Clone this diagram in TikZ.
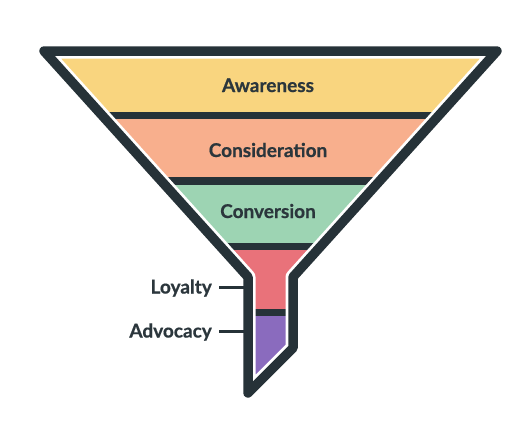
\documentclass[tikz,border=0pt]{standalone}
\usepackage{fontspec}
\setmainfont{Lato}[BoldFeatures={FakeBold=0.7}]
\definecolor{dark}{HTML}{263238}
\definecolor{txt}{HTML}{2B363C}
\definecolor{yel}{HTML}{F9D57F}
\definecolor{sal}{HTML}{F8AF8D}
\definecolor{grn}{HTML}{9DD4B3}
\definecolor{rd}{HTML}{E9727A}
\definecolor{pur}{HTML}{8A6BBE}
\tikzset{
  lbl/.style={font=\fontsize{19}{21}\selectfont\bfseries, text=txt, inner sep=0pt},
  side/.style={lbl, anchor=base east},
  tick/.style={draw=dark, line width=3pt}
}
\begin{document}
\begin{tikzpicture}[x=1pt,y=-1pt]
\useasboundingbox[fill=white] (0,0) rectangle (530,442);
\def\funnel{(44,51) -- (497,51) -- (293,277) -- (293,348) -- (248,393) -- (248,277) -- cycle}
\begin{scope}
  \clip \funnel;
  \fill[yel] (0,0) rectangle (530,112);
  \fill[sal] (0,119) rectangle (530,177);
  \fill[grn] (0,185) rectangle (530,243);
  \fill[rd] (0,250) rectangle (530,309);
  \fill[pur] (0,316) rectangle (530,442);
  \fill[dark] (0,112) rectangle (530,119);
  \fill[dark] (0,177) rectangle (530,185);
  \fill[dark] (0,243) rectangle (530,250);
  \fill[dark] (0,309) rectangle (530,316);
\end{scope}
\draw[white, line width=15pt, line join=round] \funnel;
\draw[dark, line width=9.5pt, line join=round] \funnel;
\node[lbl, anchor=base] (aw) at (268,92) {Awareness};
\node[lbl, anchor=base] (co) at (268,157) {Consideration};
\node[lbl, anchor=base] (cv) at (268,218) {Conversion};
\node[side] (loy) at (212,293.5) {Loyalty};
\node[side] (adv) at (212,337.5) {Advocacy};
\coordinate (loyA) at (219,287);
\coordinate (loyB) at (244,287);
\coordinate (advA) at (219,331);
\coordinate (advB) at (244,331);
\draw[tick] (loyA) -- (loyB);
\draw[tick] (advA) -- (advB);
\end{tikzpicture}
\end{document}
